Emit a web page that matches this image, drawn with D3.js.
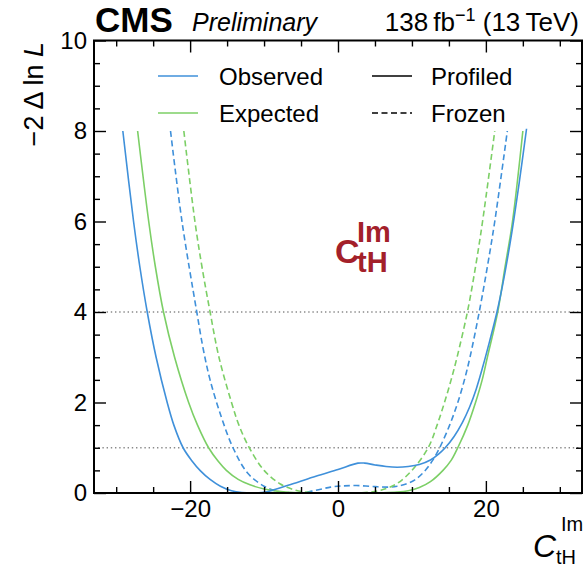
<!DOCTYPE html>
<html>
<head>
<meta charset="utf-8">
<script src="https://cdn.jsdelivr.net/npm/d3@7"></script>
<style>
  body { margin: 0; background: #fff; }
  svg { display: block; font-family: "Liberation Sans", Arial, sans-serif; }
</style>
</head>
<body>
<svg width="583" height="567"></svg>
<script>
// Observed, profiled (blue solid)
const obsProfX = [-29.1, -27.65, -26.8, -25.8, -24.6, -23.1, -22.2, -20.95, -19.8, -18.6, -17.3, -15.9, -14.4, -13, -11.5, -10.3, -9.3, -6, -3, 0, 2.7, 3.6, 5, 6.5, 8, 9.5, 11, 12.5, 13.6, 14.5, 15.7, 16.8, 17.8, 18.7, 19.6, 20.5, 21.5, 22.5, 23.5, 24.5, 25.5];
const obsProfY = [8.0, 6.0, 5.0, 4.0, 3.0, 2.0, 1.5, 1.0, 0.72, 0.49, 0.3, 0.15, 0.05, 0.01, 0.0, 0.01, 0.04, 0.21, 0.37, 0.52, 0.66, 0.66, 0.62, 0.585, 0.57, 0.585, 0.63, 0.73, 0.86, 1.0, 1.25, 1.55, 1.9, 2.3, 2.8, 3.35, 4.0, 4.8, 5.75, 6.85, 8.05];

// Expected, profiled (green solid)
const expProfX = [-27.1, -25.6, -24.7, -23.6, -22.1, -20.2, -19.0, -17.5, -16.2, -15.1, -13.5, -11.9, -10, -8, -6, -4, 0, 4, 6, 8, 9.5, 11, 12.5, 14.2, 15.3, 16.2, 17.55, 18.6, 19.5, 20.2, 21.6, 22.6, 23.6, 25.0];
const expProfY = [8.0, 6.0, 5.0, 4.0, 3.0, 2.0, 1.5, 1.0, 0.7, 0.5, 0.3, 0.18, 0.09, 0.035, 0.008, 0.0, 0.0, 0.0, 0.005, 0.02, 0.05, 0.12, 0.25, 0.5, 0.72, 1.0, 1.5, 2.0, 2.5, 3.0, 4.0, 5.0, 6.0, 8.0];

// Observed, frozen (blue dashed)
const obsFrozX = [-22.65, -21.1, -19.1, -18.2, -17.3, -15.8, -14.2, -12.2, -10, -8.3, -6.5, -5, -3, -1, 0.5, 2.5, 5, 7, 8, 9.2, 10.4, 11.7, 12.8, 13.75, 15.1, 16.2, 17.1, 17.85, 19.1, 20.2, 21.2, 22.9];
const obsFrozY = [8.0, 6.0, 4.0, 3.16, 2.5, 1.69, 1.0, 0.435, 0.15, 0.04, 0.005, 0.0, 0.06, 0.13, 0.155, 0.165, 0.14, 0.13, 0.15, 0.2, 0.29, 0.48, 0.72, 1.0, 1.5, 2.0, 2.5, 3.0, 4.0, 5.0, 6.0, 8.0];

// Expected, frozen (green dashed)
const expFrozX = [-20.85, -19.35, -18.4, -17.3, -16.1, -14.4, -13.4, -12.0, -10, -7.8, -5.7, -4, -2, 0, 2, 4, 5.8, 7.9, 10.0, 12.2, 13.4, 14.4, 15.3, 16.1, 17.5, 18.6, 19.55, 21.2];
const expFrozY = [8.0, 6.0, 5.0, 4.0, 3.0, 2.0, 1.5, 1.0, 0.5, 0.2, 0.06, 0.015, 0.001, 0.0, 0.001, 0.015, 0.06, 0.2, 0.5, 1.0, 1.5, 2.0, 2.5, 3.0, 4.0, 5.0, 6.0, 8.0];

const xMajor = [-20, 0, 20];
const xMinor = [-30, -25, -15, -10, -5, 5, 10, 15, 25, 30];
const yMajor = [0, 2, 4, 6, 8, 10];
const yMinor = [0.5, 1, 1.5, 2.5, 3, 3.5, 4.5, 5, 5.5, 6.5, 7, 7.5, 8.5, 9, 9.5];
const refLevels = [1, 4];

const blue = "#3f90da";
const green = "#7ccf66";

const svg = d3.select("svg");
const margin = { top: 40.5, right: 1, bottom: 74, left: 94 };
const width = 583 - margin.left - margin.right;
const height = 567 - margin.top - margin.bottom;

const chart = svg.append("g")
    .attr("transform", `translate(${margin.left}, ${margin.top})`);

const x = d3.scaleLinear().domain([-33, 33]).range([0, width]);
const y = d3.scaleLinear().domain([0, 10]).range([height, 0]);

chart.append("clipPath").attr("id", "clip")
    .append("rect").attr("width", width).attr("height", height);

// reference lines
chart.selectAll(".ref")
    .data(refLevels)
    .enter().append("line")
    .attr("x1", 0).attr("x2", width)
    .attr("y1", d => y(d)).attr("y2", d => y(d))
    .attr("stroke", "#8a8a8a")
    .attr("stroke-width", 1.4)
    .attr("stroke-dasharray", "1.4,2.8");

// curves
const series = [
    { xs: obsFrozX, ys: obsFrozY, color: blue, dash: "6,3.5" },
    { xs: expFrozX, ys: expFrozY, color: green, dash: "6,3.5" },
    { xs: expProfX, ys: expProfY, color: green, dash: null },
    { xs: obsProfX, ys: obsProfY, color: blue, dash: null }
];

const line = d3.line()
    .x(d => x(d[0]))
    .y(d => y(d[1]))
    .curve(d3.curveCatmullRom.alpha(0.5));

chart.append("g").attr("clip-path", "url(#clip)")
    .selectAll("path")
    .data(series)
    .enter().append("path")
    .attr("d", s => line(s.xs.map((v, i) => [v, s.ys[i]])))
    .attr("fill", "none")
    .attr("stroke", s => s.color)
    .attr("stroke-width", 1.6)
    .attr("stroke-dasharray", s => s.dash);

// axes (ticks pointing inward on all four sides)
function styleAxis(g) {
    g.select(".domain").remove();
    g.selectAll("line").attr("stroke", "#000").attr("stroke-width", 1.4);
    g.selectAll("text").attr("font-size", 24).attr("fill", "#000")
        .attr("font-family", "Liberation Sans, Arial, sans-serif");
}

chart.append("g").attr("transform", `translate(0, ${height})`)
    .call(d3.axisBottom(x).tickValues(xMajor).tickSize(-12).tickPadding(7))
    .call(styleAxis);
chart.append("g").attr("transform", `translate(0, ${height})`)
    .call(d3.axisBottom(x).tickValues(xMinor).tickSize(-6).tickFormat(""))
    .call(styleAxis);
chart.append("g")
    .call(d3.axisTop(x).tickValues(xMajor).tickSize(-12).tickFormat(""))
    .call(styleAxis);
chart.append("g")
    .call(d3.axisTop(x).tickValues(xMinor).tickSize(-6).tickFormat(""))
    .call(styleAxis);

chart.append("g")
    .call(d3.axisLeft(y).tickValues(yMajor).tickSize(-12).tickPadding(7))
    .call(styleAxis);
chart.append("g")
    .call(d3.axisLeft(y).tickValues(yMinor).tickSize(-6).tickFormat(""))
    .call(styleAxis);
chart.append("g").attr("transform", `translate(${width}, 0)`)
    .call(d3.axisRight(y).tickValues(yMajor).tickSize(-12).tickFormat(""))
    .call(styleAxis);
chart.append("g").attr("transform", `translate(${width}, 0)`)
    .call(d3.axisRight(y).tickValues(yMinor).tickSize(-6).tickFormat(""))
    .call(styleAxis);

// frame
chart.append("rect")
    .attr("width", width).attr("height", height)
    .attr("fill", "none").attr("stroke", "#000").attr("stroke-width", 2);

// legend
const legendRows = [
    { label: "Observed", color: blue, dash: null, col: 0, row: 0 },
    { label: "Expected", color: green, dash: null, col: 0, row: 1 },
    { label: "Profiled", color: "#000", dash: null, col: 1, row: 0 },
    { label: "Frozen", color: "#000", dash: "6,3.5", col: 1, row: 1 }
];
const legend = svg.append("g");
const leg = legend.selectAll("g")
    .data(legendRows)
    .enter().append("g")
    .attr("transform", d => `translate(${d.col ? 372 : 158}, ${d.row ? 113 : 76})`);
leg.append("line")
    .attr("x1", 0).attr("x2", 40)
    .attr("stroke", d => d.color)
    .attr("stroke-width", 1.6)
    .attr("stroke-dasharray", d => d.dash);
leg.append("text")
    .attr("x", d => d.col ? 59 : 61)
    .attr("y", 9)
    .attr("font-size", 24)
    .text(d => d.label);

// header
svg.append("text")
    .attr("x", 95).attr("y", 32)
    .attr("font-size", 35).attr("font-weight", "bold")
    .text("CMS");
svg.append("text")
    .attr("x", 192).attr("y", 31)
    .attr("font-size", 25).attr("font-style", "italic")
    .text("Preliminary");
const lumi = svg.append("text")
    .attr("x", 579).attr("y", 31)
    .attr("font-size", 26)
    .attr("text-anchor", "end");
lumi.append("tspan").text("138\u2009fb");
lumi.append("tspan").attr("dy", -10).attr("font-size", 18).text("\u22121");
lumi.append("tspan").attr("dy", 10).text(" (13\u2009TeV)");

// y axis title
const yTitle = svg.append("text")
    .attr("transform", "translate(43, 42) rotate(-90)")
    .attr("text-anchor", "end")
    .attr("font-size", 27);
yTitle.append("tspan").text("\u22122 \u0394 ln ");
yTitle.append("tspan").attr("font-style", "italic").text("L");

// x axis title
svg.append("text")
    .attr("x", 533).attr("y", 557)
    .attr("font-size", 32).attr("font-style", "italic")
    .text("C");
svg.append("text")
    .attr("x", 561).attr("y", 531)
    .attr("font-size", 20)
    .text("Im");
svg.append("text")
    .attr("x", 556).attr("y", 564)
    .attr("font-size", 20)
    .text("tH");

// in-plot label
const red = "#a3202a";
svg.append("text")
    .attr("x", 335).attr("y", 263)
    .attr("font-size", 34).attr("font-weight", "bold").attr("fill", red)
    .text("C");
svg.append("text")
    .attr("x", 357).attr("y", 242)
    .attr("font-size", 29).attr("font-weight", "bold").attr("fill", red)
    .text("Im");
svg.append("text")
    .attr("x", 357).attr("y", 272)
    .attr("font-size", 29).attr("font-weight", "bold").attr("fill", red)
    .text("tH");
</script>
</body>
</html>
